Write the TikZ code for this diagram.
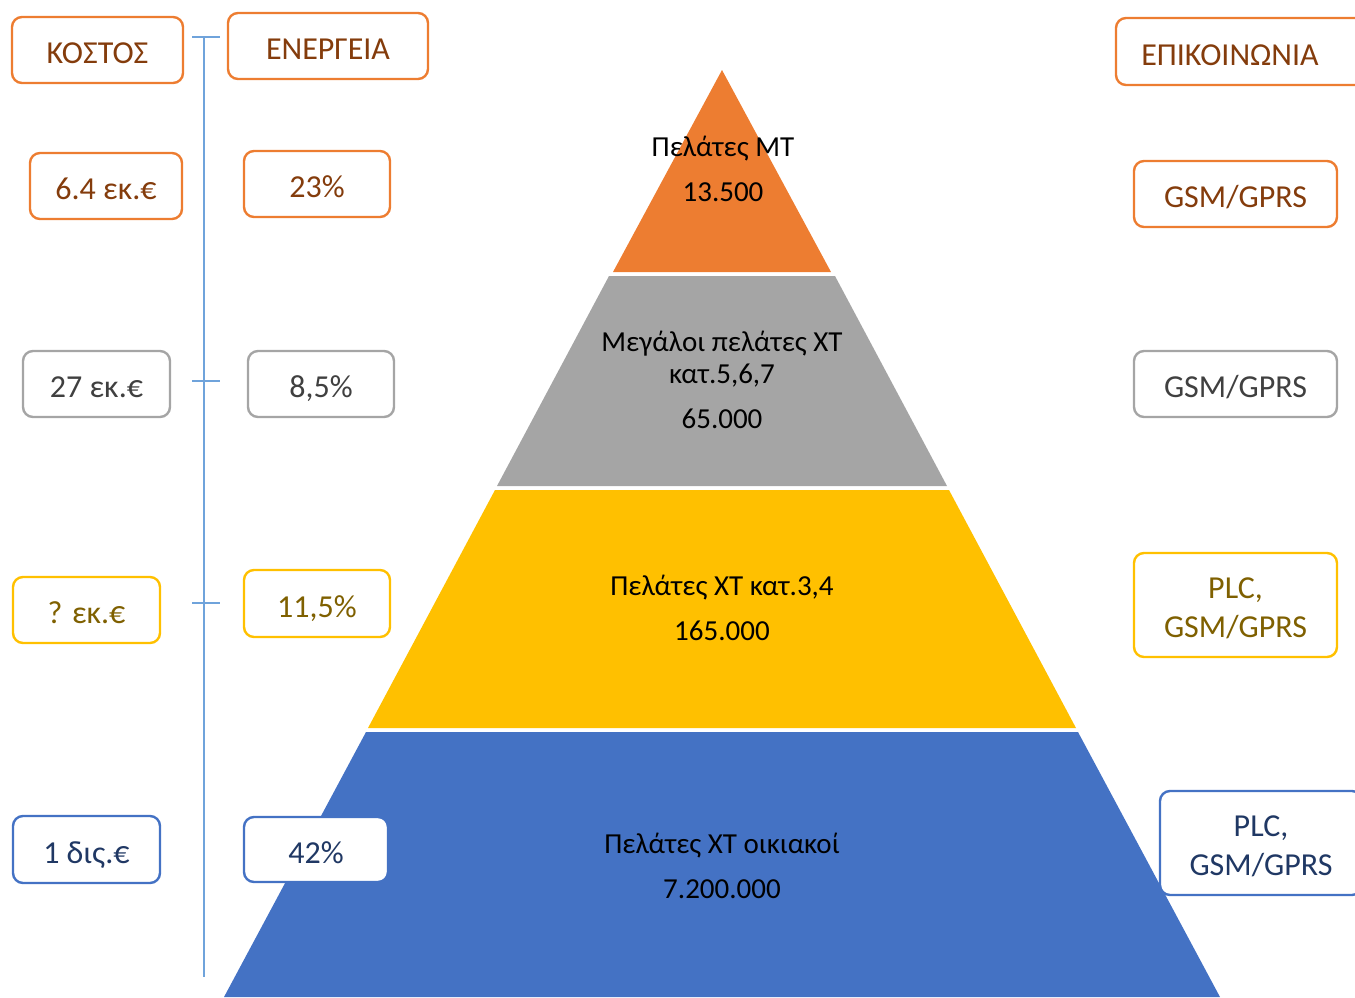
\documentclass[tikz,border=0pt]{standalone}
\usepackage{fontspec}
\setmainfont{Carlito}
\definecolor{cOrange}{HTML}{ED7D31}
\definecolor{cGray}{HTML}{A5A5A5}
\definecolor{cYellow}{HTML}{FFC000}
\definecolor{cBlue}{HTML}{4472C4}
\definecolor{tOrange}{HTML}{843C0C}
\definecolor{tGray}{HTML}{404040}
\definecolor{tYellow}{HTML}{7F6000}
\definecolor{tBlue}{HTML}{203864}
\definecolor{cLine}{HTML}{6FA3DB}
\begin{document}
\begin{tikzpicture}[x=0.5pt,y=-0.5pt,
  box/.style={draw, line width=1.2pt, rounded corners=5pt, fill=white, inner sep=0pt,
    font=\fontsize{16}{19.5}\selectfont, align=center, text height=16pt, text depth=2.5pt},
  twoline/.style={text height=32.8pt, text depth=0pt},
  obox/.style={box, draw=cOrange, text=tOrange},
  gbox/.style={box, draw=cGray, text=tGray},
  ybox/.style={box, draw=cYellow, text=tYellow},
  bbox/.style={box, draw=cBlue, text=tBlue},
  ptext/.style={font=\fontsize{14.5}{16}\selectfont, align=center, text=black},
  axis/.style={draw=cLine, line width=0.9pt}]
\useasboundingbox (0,0) rectangle (1355,997);

% pyramid layers
\fill[cOrange] (722,70) -- (831,272) -- (613,272) -- cycle;
\fill[cGray] (609,276) -- (835,276) -- (947,486) -- (497,486) -- cycle;
\fill[cYellow] (495,490) -- (949,490) -- (1076,728) -- (368,728) -- cycle;
\fill[cBlue] (366,732) -- (1078,732) -- (1220,997) -- (224,997) -- cycle;

\node[ptext] (mt) at (723,169) {Πελάτες ΜΤ\\[6.5pt]13.500};
\node[ptext] (big) at (722,380) {Μεγάλοι πελάτες ΧΤ\\κατ.5,6,7\\[6.5pt]65.000};
\node[ptext] (xt34) at (722,608) {Πελάτες ΧΤ κατ.3,4\\[6.5pt]165.000};
\node[ptext] (home) at (722,866) {Πελάτες ΧΤ οικιακοί\\[6.5pt]7.200.000};

% axis
\coordinate (tl) at (192,37); \coordinate (tr) at (220,37);
\coordinate (vt) at (204,37); \coordinate (vb) at (204,977);
\coordinate (a1) at (192,381); \coordinate (a2) at (220,381);
\coordinate (b1) at (192,603); \coordinate (b2) at (220,603);
\draw[axis] (tl) -- (tr);
\draw[axis] (vt) -- (vb);
\draw[axis] (a1) -- (a2);
\draw[axis] (b1) -- (b2);

% header boxes
\node[obox, minimum width=85.5pt, minimum height=33pt] (cost) at (97.5,50) {ΚΟΣΤΟΣ};
\node[obox, minimum width=100pt, minimum height=33pt] (energy) at (328,46) {ΕΝΕΡΓΕΙΑ};
\node[obox, minimum width=125pt, minimum height=33.5pt] (comm) at (1241,51.5) {ΕΠΙΚΟΙΝΩΝΙΑ\hspace*{11pt}};

% orange row
\node[obox, minimum width=76pt, minimum height=33pt] (c1) at (106,186) {6.4 εκ.€};
\node[obox, minimum width=73pt, minimum height=33pt] (e1) at (317,184) {23\%};
\node[obox, minimum width=101.5pt, minimum height=33pt] (k1) at (1235.5,194) {GSM/GPRS};

% gray row
\node[gbox, minimum width=73.5pt, minimum height=33pt] (c2) at (96.5,384) {27 εκ.€};
\node[gbox, minimum width=73pt, minimum height=33pt] (e2) at (321,384) {8,5\%};
\node[gbox, minimum width=101.5pt, minimum height=33pt] (k2) at (1235.5,384) {GSM/GPRS};

% yellow row
\node[ybox, minimum width=73.5pt, minimum height=33pt] (c3) at (86.5,610) {? εκ.€};
\node[ybox, minimum width=73pt, minimum height=33.5pt] (e3) at (317,603.5) {11,5\%};
\node[ybox, twoline, minimum width=101.5pt, minimum height=52pt] (k3) at (1235.5,605) {PLC,\\GSM/GPRS};

% blue row
\node[bbox, minimum width=73.5pt, minimum height=33.5pt] (c4) at (86.5,849.5) {1 δις.€};
\node[bbox, minimum width=72pt, minimum height=32.5pt] (e4) at (316,849.5) {42\%};
\node[bbox, twoline, minimum width=101pt, minimum height=52pt] (k4) at (1261,843) {PLC,\\GSM/GPRS};
\end{tikzpicture}
\end{document}
